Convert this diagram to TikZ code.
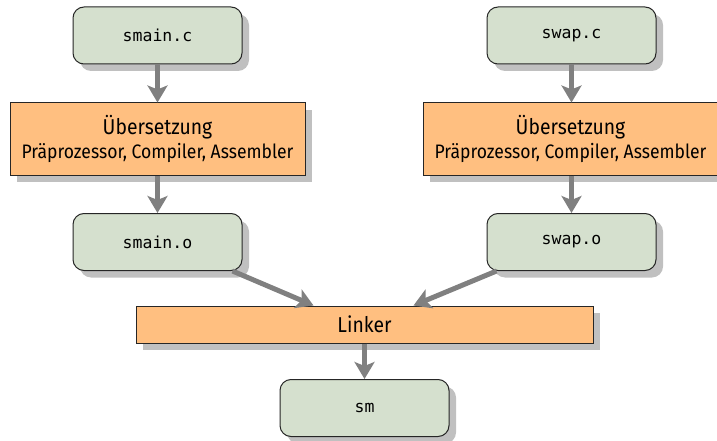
\documentclass[tikz,border=0pt]{standalone}
\usepackage{fontspec}
\setmainfont{Fira Sans}[FakeStretch=0.9]
\setmonofont{DejaVu Sans Mono}
\usetikzlibrary{arrows.meta,shadows}
\definecolor{boxgreen}{RGB}{213,224,206}
\definecolor{boxorange}{RGB}{255,191,128}
\definecolor{shadowgray}{RGB}{192,192,192}
\definecolor{arrowgray}{RGB}{128,128,128}
\tikzset{
  myshadow/.style={drop shadow={shadow xshift=7pt, shadow yshift=-7pt, fill=shadowgray, opacity=1}},
  filebox/.style={draw=black!85, line width=1pt, fill=boxgreen, rounded corners=11pt,
    minimum width=169pt, minimum height=57pt, inner sep=0pt, myshadow,
    font=\ttfamily\fontsize{16.5}{20}\selectfont},
  procbox/.style={draw=black!85, line width=1pt, fill=boxorange,
    minimum width=295pt, minimum height=72pt, inner sep=0pt, myshadow, align=center},
  linkbox/.style={draw=black!85, line width=1pt, fill=boxorange,
    minimum width=457pt, minimum height=37pt, inner sep=0pt, myshadow,
    font=\fontsize{21.5}{24}\selectfont},
  flow/.style={draw=arrowgray, line width=5pt, -{Stealth[length=17pt,width=20pt,inset=4pt]}}
}
\newcommand{\proctext}{{\fontsize{21.5}{26}\selectfont Übersetzung}\\[3pt]{\fontsize{19.5}{22}\selectfont Präprozessor, Compiler, Assembler}}
\begin{document}
\begin{tikzpicture}[x=1pt,y=-1pt]
\useasboundingbox (0,0) rectangle (717,441);
\node[filebox] (smc) at (157.5,35.5) {smain.c};
\node[filebox] (swc) at (571.5,35.5) {swap.c};
\node[procbox] (ul) at (157.5,139) {\proctext};
\node[procbox] (ur) at (570.5,139) {\proctext};
\node[filebox] (smo) at (157.5,242) {smain.o};
\node[filebox] (swo) at (571.5,242) {swap.o};
\node[linkbox] (link) at (364.5,324.5) {Linker};
\node[filebox] (sm) at (364.5,408) {sm};
\draw[flow] (smc.south) -- (ul.north);
\draw[flow] (swc.south) -- (swc.south |- ur.north);
\draw[flow] (ul.south) -- (smo.north);
\draw[flow] (swc.south |- ur.south) -- (swo.north);
\draw[flow] ([xshift=-10pt]smo.south east) -- ([xshift=-51pt]link.north);
\draw[flow] ([xshift=10pt]swo.south west) -- ([xshift=49pt]link.north);
\draw[flow] (link.south) -- (sm.north);
\end{tikzpicture}
\end{document}
